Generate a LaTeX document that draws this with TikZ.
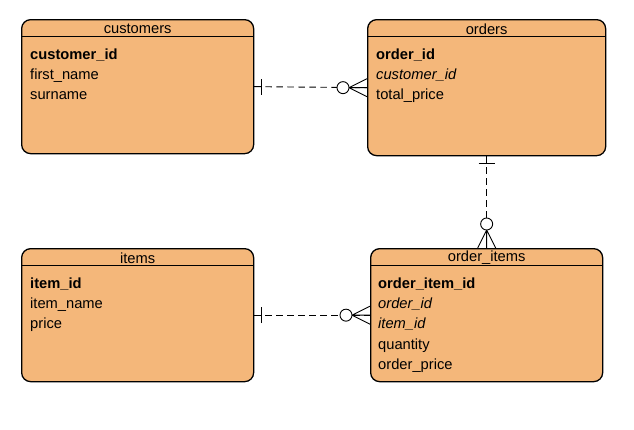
\documentclass[tikz,border=0pt]{standalone}
\usepackage{xcolor}
\usepackage{fontspec}
\setmainfont{Liberation Sans}
\usepackage{tikz}
\usetikzlibrary{positioning, arrows.meta}

\definecolor{entityfill}{RGB}{244,183,122}

\begin{document}
\begin{tikzpicture}[x=1pt, y=1pt]
			
			% Styles
			\tikzset{
				table/.style={
					rectangle, draw, line width=1.3pt, rounded corners=9pt,
					fill=entityfill, anchor=north west, inner sep=0pt,
					minimum width=232pt, minimum height=134pt
				},
				title/.style={
					inner sep=0pt, font=\fontsize{14.7pt}{17pt}\selectfont
				},
				attr/.style={
					anchor=west, inner xsep=0pt, inner ysep=2.5pt,
					text height=11pt, text depth=4pt,
					font=\fontsize{14.7pt}{17pt}\selectfont
				},
				pk/.style={attr, font=\fontsize{14.7pt}{17pt}\selectfont\bfseries},
				fk/.style={attr, font=\fontsize{14.7pt}{17pt}\selectfont\itshape},
				next/.style={below=0pt of #1.south west, anchor=north west},
				conn/.style={line width=0.9pt},
				rel/.style={conn, dash pattern=on 6.5pt off 4.5pt},
				erone/.pic={
					\draw[conn] (0,0) -- (7,0) (7,-8) -- (7,8);
				},
				ermany/.pic={
					\draw[conn] (0,-9) -- (18,0) -- (0,9) (0,0) -- (18,0);
					\draw[conn, fill=white] (24,0) circle (6pt);
				}
			}
			
			\useasboundingbox (0,0) rectangle (634,-429);
			
			% Tables
			\node (customers) [table] at (21,-19) {};
			\node (orders) [table, minimum width=238pt, minimum height=136pt] at (367,-19) {};
			\node (items) [table, minimum height=133pt] at (21,-248) {};
			\node (orderitems) [table, minimum height=133pt] at (370,-248) {};
			
			% Headers
			\foreach \t/\name in {customers/customers, orders/orders, items/items, orderitems/order\_items} {
				\node (\t-title) [title] at ([yshift=-10pt]\t.north) {\name};
				\draw[line width=1.1pt] ([yshift=-17.5pt]\t.north west) -- ([yshift=-17.5pt]\t.north east);
			}
			
			% customers
			\node (cust-id) [pk] at ([xshift=9pt, yshift=-36.5pt]customers.north west) {customer\_id};
			\node (cust-first) [attr, next=cust-id] {first\_name};
			\node (cust-sur) [attr, next=cust-first] {surname};
			
			% orders
			\node (ord-id) [pk] at ([xshift=9pt, yshift=-36.5pt]orders.north west) {order\_id};
			\node (ord-cust) [fk, next=ord-id] {customer\_id};
			\node (ord-total) [attr, next=ord-cust] {total\_price};
			
			% items
			\node (item-id) [pk] at ([xshift=9pt, yshift=-36.5pt]items.north west) {item\_id};
			\node (item-name) [attr, next=item-id] {item\_name};
			\node (item-price) [attr, next=item-name] {price};
			
			% order_items
			\node (oi-id) [pk] at ([xshift=8pt, yshift=-36.5pt]orderitems.north west) {order\_item\_id};
			\node (oi-order) [fk, next=oi-id] {order\_id};
			\node (oi-item) [fk, next=oi-order] {item\_id};
			\node (oi-qty) [attr, next=oi-item] {quantity};
			\node (oi-price) [attr, next=oi-qty] {order\_price};
			
			% Relations
			\draw[rel] (customers.east) -- (orders.west);
			\pic at (customers.east) {erone};
			\pic[rotate=180] at (orders.west) {ermany};
			
			\draw[rel] (orders.south) -- (orderitems.north);
			\pic[rotate=-90] at (orders.south) {erone};
			\pic[rotate=90] at (orderitems.north) {ermany};
			
			\draw[rel] (items.east) -- (orderitems.west);
			\pic at (items.east) {erone};
			\pic[rotate=180] at (orderitems.west) {ermany};
			
		\end{tikzpicture}
\end{document}
